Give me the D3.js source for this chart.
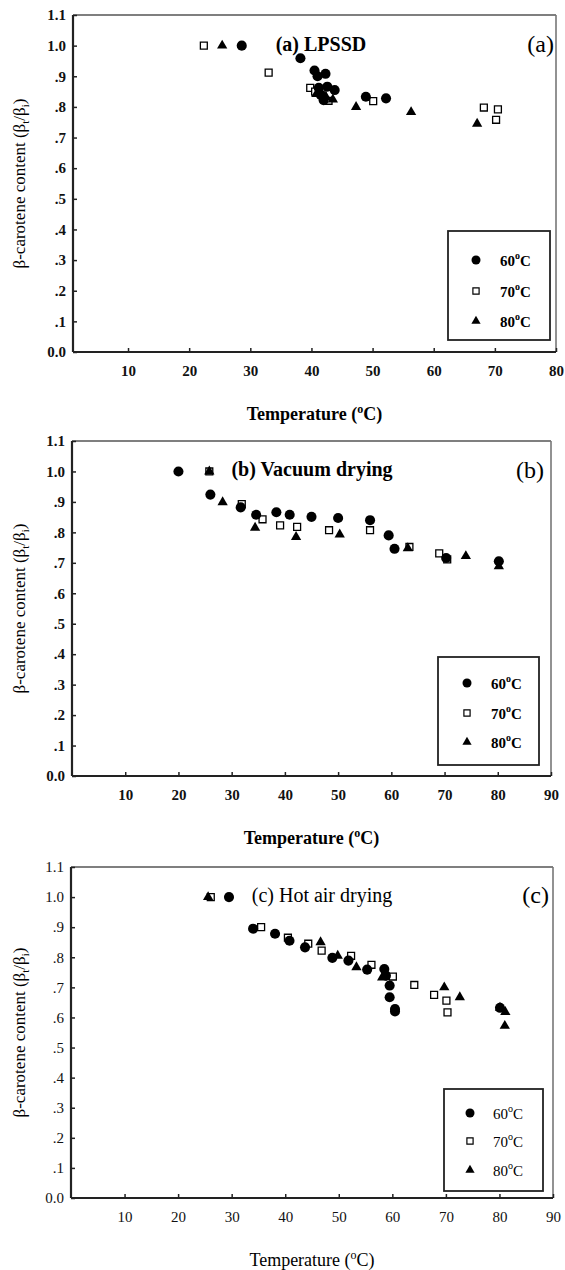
<!DOCTYPE html>
<html>
<head>
<meta charset="utf-8">
<script src="https://cdn.jsdelivr.net/npm/d3@7"></script>
<style>
body { margin: 0; background: #fff; }
svg { display: block; }
</style>
</head>
<body>
<svg id="chart" width="565" height="1270"></svg>
<script>
// [temperature (°C), beta-carotene ratio]
var lpssd60 = [[28.6, 1.0], [38.2, 0.959], [40.5, 0.919], [41.0, 0.900], [42.3, 0.908], [41.2, 0.862], [42.6, 0.866], [43.8, 0.855], [41.5, 0.840], [42.0, 0.822], [48.9, 0.833], [52.2, 0.828]];
var lpssd70 = [[22.4, 1.0], [33.0, 0.912], [39.8, 0.862], [40.6, 0.850], [41.8, 0.838], [42.8, 0.820], [50.1, 0.819], [68.2, 0.798], [70.5, 0.792], [70.2, 0.758]];
var lpssd80 = [[25.4, 1.0], [40.8, 0.842], [42.4, 0.832], [43.5, 0.824], [47.3, 0.800], [56.3, 0.783], [67.1, 0.745]];

var vacuum60 = [[20.0, 1.0], [26.0, 0.924], [31.7, 0.882], [34.6, 0.858], [38.4, 0.866], [40.9, 0.858], [45.0, 0.851], [50.0, 0.847], [56.0, 0.840], [59.5, 0.790], [60.6, 0.746], [70.3, 0.716], [80.2, 0.705]];
var vacuum70 = [[25.8, 1.0], [31.9, 0.893], [35.8, 0.843], [39.1, 0.823], [42.3, 0.818], [48.3, 0.807], [56.0, 0.807], [63.4, 0.752], [69.0, 0.731], [70.5, 0.711]];
var vacuum80 = [[25.8, 1.0], [28.3, 0.899], [34.4, 0.815], [42.1, 0.785], [50.3, 0.793], [63.1, 0.748], [74.0, 0.722], [80.2, 0.689]];

var hotair60 = [[29.5, 1.0], [34.0, 0.895], [38.1, 0.878], [40.8, 0.855], [43.7, 0.833], [48.8, 0.798], [51.8, 0.789], [55.3, 0.759], [58.5, 0.761], [58.8, 0.739], [59.5, 0.706], [59.5, 0.667], [60.5, 0.628], [60.5, 0.620], [80.1, 0.632]];
var hotair70 = [[26.1, 1.0], [35.5, 0.900], [40.5, 0.865], [44.3, 0.845], [46.8, 0.822], [52.3, 0.805], [56.1, 0.775], [60.1, 0.736], [64.1, 0.708], [67.8, 0.675], [70.1, 0.656], [70.3, 0.617]];
var hotair80 = [[25.6, 1.0], [46.6, 0.850], [49.8, 0.805], [53.3, 0.767], [58.1, 0.733], [69.7, 0.700], [72.6, 0.667], [80.1, 0.632], [81.1, 0.618], [81.0, 0.572]];

var yTicks = [0, 0.1, 0.2, 0.3, 0.4, 0.5, 0.6, 0.7, 0.8, 0.9, 1.0, 1.1];
var yTickLabels = ['0.0', '.1', '.2', '.3', '.4', '.5', '.6', '.7', '.8', '.9', '1.0', '1.1'];
var xTicksA = [10, 20, 30, 40, 50, 60, 70, 80];
var xTicksBC = [10, 20, 30, 40, 50, 60, 70, 80, 90];
var legendTemps = ['60', '70', '80'];

var serif = '"Liberation Serif", "Times New Roman", serif';
var svg = d3.select('#chart');

// marker styles for 60, 70, 80 degC
var markers = [
    {type: d3.symbolCircle, size: 80, fill: '#000', stroke: 'none'},
    {type: d3.symbolSquare, size: 48, fill: '#fff', stroke: '#000'},
    {type: d3.symbolTriangle, size: 46, fill: '#000', stroke: 'none'}
];

var panels = [
    {
        title: '(a) LPSSD', titleX: 321, titleWeight: 'bold', tag: '(a)', tagX: 554,
        series: [lpssd60, lpssd70, lpssd80], xDomain: [1, 80], xTicks: xTicksA,
        left: 73, right: 556, top: 15, bottom: 352, weight: 'bold',
        legend: {x: 448, y: 231, w: 102, h: 109, mx: 476, tx: 500, rows: [260, 291, 321]}
    },
    {
        title: '(b) Vacuum drying', titleX: 312, titleWeight: 'bold', tag: '(b)', tagX: 544,
        series: [vacuum60, vacuum70, vacuum80], xDomain: [0, 90], xTicks: xTicksBC,
        left: 72, right: 551, top: 441, bottom: 776, weight: 'bold',
        legend: {x: 438, y: 657, w: 101, h: 108, mx: 467, tx: 491, rows: [683, 713, 742]}
    },
    {
        title: '(c) Hot air drying', titleX: 322, titleWeight: 'normal', tag: '(c)', tagX: 549,
        series: [hotair60, hotair70, hotair80], xDomain: [0, 90], xTicks: xTicksBC,
        left: 71, right: 553, top: 867, bottom: 1198, weight: 'normal',
        legend: {x: 444, y: 1089, w: 99, h: 102, mx: 470, tx: 493, rows: [1113, 1141, 1170]}
    }
];

panels.forEach(function (p) {
    var x = d3.scaleLinear().domain(p.xDomain).range([p.left, p.right]);
    var y = d3.scaleLinear().domain([0, 1.1]).range([p.bottom, p.top]);
    var g = svg.append('g');

    // frame: top / right lighter
    g.append('line').attr('x1', p.left).attr('x2', p.right).attr('y1', p.top).attr('y2', p.top)
        .attr('stroke', '#555').attr('stroke-width', 1.6);
    g.append('line').attr('x1', p.right).attr('x2', p.right).attr('y1', p.top).attr('y2', p.bottom)
        .attr('stroke', '#777').attr('stroke-width', 1.6);

    var yAxis = d3.axisLeft(y).tickValues(yTicks)
        .tickFormat(function (d, i) { return yTickLabels[i]; })
        .tickSizeInner(-4).tickSizeOuter(0).tickPadding(7);
    var ya = g.append('g').attr('transform', 'translate(' + p.left + ',0)').call(yAxis);

    var xAxis = d3.axisBottom(x).tickValues(p.xTicks)
        .tickFormat(d3.format('d'))
        .tickSizeInner(-4).tickSizeOuter(0).tickPadding(13);
    var xa = g.append('g').attr('transform', 'translate(0,' + p.bottom + ')').call(xAxis);

    [ya, xa].forEach(function (a) {
        a.select('.domain').attr('stroke', '#222').attr('stroke-width', 2.2);
        a.selectAll('.tick line').attr('stroke', '#222').attr('stroke-width', 1.5);
        a.selectAll('.tick text').attr('font-family', serif).attr('font-size', 15)
            .attr('font-weight', p.weight).attr('fill', '#111');
    });
    xa.select('.domain').attr('d', 'M' + p.left + ',0H' + p.right);
    ya.select('.domain').attr('d', 'M0,' + p.bottom + 'V' + p.top);

    // titles
    g.append('text').attr('x', p.titleX).attr('y', y(1.0) - 2).attr('dy', '0.35em')
        .attr('text-anchor', 'middle').attr('font-family', serif).attr('font-size', 20)
        .attr('font-weight', p.titleWeight).text(p.title);
    g.append('text').attr('x', p.tagX).attr('y', y(1.0) - 2).attr('dy', '0.35em')
        .attr('text-anchor', 'end').attr('font-family', serif).attr('font-size', 24)
        .text(p.tag);

    // points: squares, triangles, then circles on top
    [1, 2, 0].forEach(function (k) {
        var m = markers[k];
        g.append('g').selectAll('path').data(p.series[k]).enter().append('path')
            .attr('d', d3.symbol().type(m.type).size(m.size))
            .attr('transform', function (d) { return 'translate(' + x(d[0]) + ',' + y(d[1]) + ')'; })
            .attr('fill', m.fill).attr('stroke', m.stroke).attr('stroke-width', 1.3);
    });

    // legend
    var L = p.legend;
    g.append('rect').attr('x', L.x).attr('y', L.y).attr('width', L.w).attr('height', L.h)
        .attr('fill', '#fff').attr('stroke', '#222').attr('stroke-width', 1.8);
    legendTemps.forEach(function (t, i) {
        var m = markers[i];
        g.append('path').attr('d', d3.symbol().type(m.type).size(m.size * 0.8))
            .attr('transform', 'translate(' + L.mx + ',' + L.rows[i] + ')')
            .attr('fill', m.fill).attr('stroke', m.stroke).attr('stroke-width', 1.2);
        var tx = g.append('text').attr('x', L.tx).attr('y', L.rows[i] + 6)
            .attr('font-family', serif).attr('font-size', 15).attr('font-weight', p.weight);
        tx.append('tspan').text(t);
        tx.append('tspan').attr('dy', -7).attr('font-size', 10).text('o');
        tx.append('tspan').attr('dy', 7).text('C');
    });

    // axis titles
    var xt = g.append('text').attr('x', (p.left + p.right) / 2).attr('y', p.bottom + 68)
        .attr('text-anchor', 'middle').attr('font-family', serif).attr('font-size', 18)
        .attr('font-weight', p.weight);
    xt.append('tspan').text('Temperature (');
    xt.append('tspan').attr('dy', -7).attr('font-size', 12).text('o');
    xt.append('tspan').attr('dy', 7).text('C)');

    var yt = g.append('text')
        .attr('transform', 'translate(25,' + (p.top + p.bottom) / 2 + ') rotate(-90)')
        .attr('text-anchor', 'middle').attr('font-family', serif).attr('font-size', 17);
    yt.append('tspan').text('β-carotene content (β');
    yt.append('tspan').attr('dy', 4).attr('font-size', 11).text('t');
    yt.append('tspan').attr('dy', -4).text('/β');
    yt.append('tspan').attr('dy', 4).attr('font-size', 11).text('i');
    yt.append('tspan').attr('dy', -4).text(')');
});
</script>
</body>
</html>
